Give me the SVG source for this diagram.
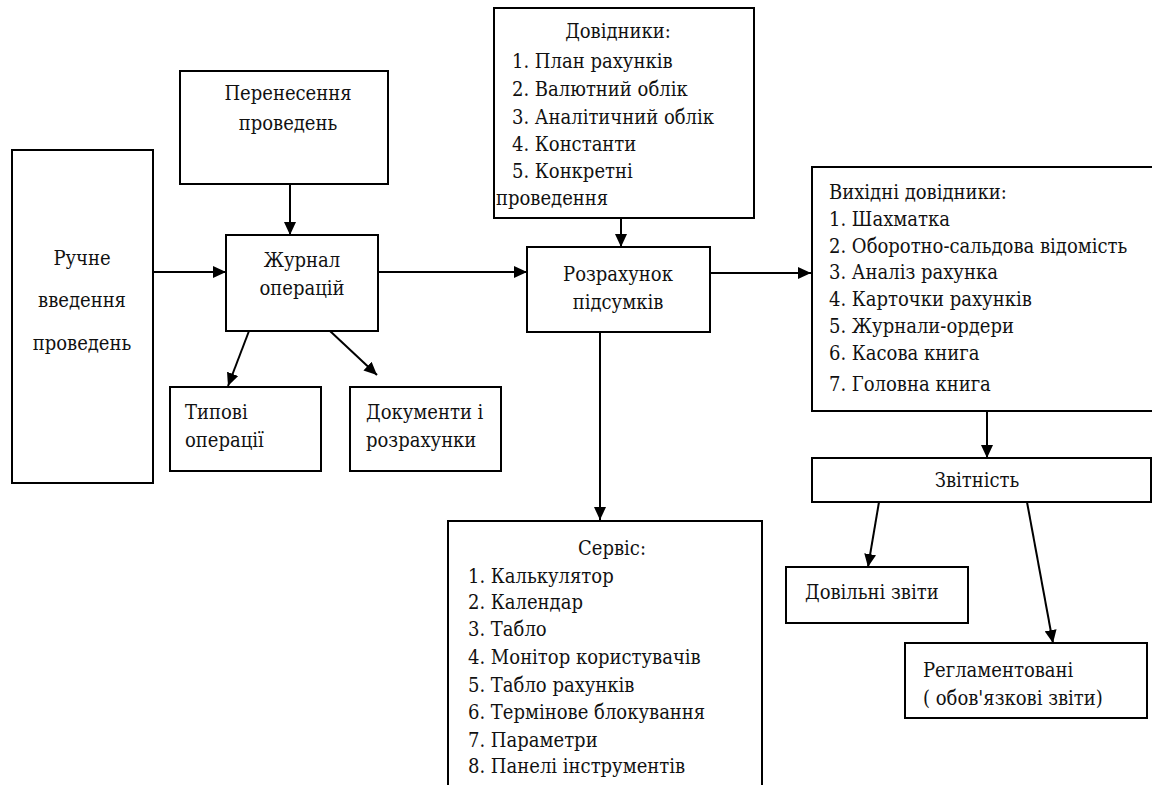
<svg xmlns="http://www.w3.org/2000/svg" width="1157" height="785" viewBox="0 0 1157 785">
<style>
.box{fill:#fff;stroke:#000;stroke-width:2}
.ln{fill:none;stroke:#000;stroke-width:2}
.c{text-anchor:middle}
</style>
<defs>
<marker id="ah" markerUnits="userSpaceOnUse" markerWidth="14" markerHeight="12" refX="13" refY="6" orient="auto">
<path d="M0,0 L13,6 L0,12 Z" fill="#000"/>
</marker>
</defs>
<rect width="1157" height="785" fill="#fff"/>
<g id="connectors">
<line class="ln" x1="290" y1="184" x2="290" y2="235" marker-end="url(#ah)"/>
<line class="ln" x1="153" y1="272" x2="226" y2="272" marker-end="url(#ah)"/>
<line class="ln" x1="378" y1="272" x2="527" y2="272" marker-end="url(#ah)"/>
<line class="ln" x1="621" y1="218" x2="621" y2="247" marker-end="url(#ah)"/>
<line class="ln" x1="710" y1="273" x2="811" y2="273" marker-end="url(#ah)"/>
<line class="ln" x1="600" y1="332" x2="600" y2="520" marker-end="url(#ah)"/>
<line class="ln" x1="249" y1="331" x2="228" y2="386" marker-end="url(#ah)"/>
<line class="ln" x1="330" y1="331" x2="377" y2="375" marker-end="url(#ah)"/>
<line class="ln" x1="987" y1="410" x2="987" y2="458" marker-end="url(#ah)"/>
<line class="ln" x1="879" y1="502" x2="868" y2="567" marker-end="url(#ah)"/>
<line class="ln" x1="1027" y1="502" x2="1053" y2="643" marker-end="url(#ah)"/>
</g>
<g font-family="DejaVu Serif Condensed, DejaVu Serif, serif" font-size="20" fill="#111">
<g id="manual">
<rect class="box" x="12" y="150" width="141" height="333"/>
<text class="c" x="82" y="265">Ручне</text>
<text class="c" x="82" y="307">введення</text>
<text class="c" x="82" y="350">проведень</text>
</g>
<g id="transfer">
<rect class="box" x="180" y="71" width="208" height="113"/>
<text class="c" x="288" y="100">Перенесення</text>
<text class="c" x="288" y="130">проведень</text>
</g>
<g id="journal">
<rect class="box" x="226" y="235" width="152" height="96"/>
<text class="c" x="302" y="267">Журнал</text>
<text class="c" x="302" y="295">операцій</text>
</g>
<g id="typical">
<rect class="box" x="170" y="387" width="151" height="84"/>
<text x="185" y="419">Типові</text>
<text x="185" y="447">операції</text>
</g>
<g id="docs">
<rect class="box" x="350" y="387" width="151" height="84"/>
<text x="366" y="419">Документи і</text>
<text x="366" y="447">розрахунки</text>
</g>
<g id="refs">
<rect class="box" x="494" y="8" width="260" height="210"/>
<text class="c" x="618" y="38">Довідники:</text>
<text x="512" y="68">1. План рахунків</text>
<text x="512" y="96">2. Валютний облік</text>
<text x="512" y="124">3. Аналітичний  облік</text>
<text x="512" y="151">4. Константи</text>
<text x="512" y="178">5. Конкретні</text>
<text x="496" y="205">проведення</text>
</g>
<g id="calc">
<rect class="box" x="527" y="247" width="183" height="85"/>
<text class="c" x="618" y="281">Розрахунок</text>
<text class="c" x="618" y="309">підсумків</text>
</g>
<g id="outrefs">
<path class="ln" d="M1152,167 H812 V411 H1152"/>
<text x="829" y="199">Вихідні довідники:</text>
<text x="829" y="226">1. Шахматка</text>
<text x="829" y="253">2. Оборотно-сальдова  відомість</text>
<text x="829" y="279">3. Аналіз рахунка</text>
<text x="829" y="306">4. Карточки рахунків</text>
<text x="829" y="333">5. Журнали-ордери</text>
<text x="829" y="360">6. Касова книга</text>
<text x="829" y="391">7. Головна книга</text>
</g>
<g id="reporting">
<rect class="box" x="812" y="458" width="339" height="44"/>
<text class="c" x="977" y="487">Звітність</text>
</g>
<g id="arbitrary">
<rect class="box" x="786" y="567" width="182" height="56"/>
<text x="805" y="599">Довільні звіти</text>
</g>
<g id="regulated">
<rect class="box" x="905" y="643" width="242" height="75"/>
<text x="923" y="677">Регламентовані</text>
<text x="923" y="705">( обов'язкові звіти)</text>
</g>
<g id="service">
<path class="ln" d="M448,786 V521 H762 V786"/>
<text class="c" x="612" y="555">Сервіс:</text>
<text x="468" y="583">1. Калькулятор</text>
<text x="468" y="609">2. Календар</text>
<text x="468" y="636">3. Табло</text>
<text x="468" y="664">4. Монітор користувачів</text>
<text x="468" y="692">5. Табло рахунків</text>
<text x="468" y="719">6. Термінове блокування</text>
<text x="468" y="747">7. Параметри</text>
<text x="468" y="773">8. Панелі  інструментів</text>
</g>
</g>
</svg>
